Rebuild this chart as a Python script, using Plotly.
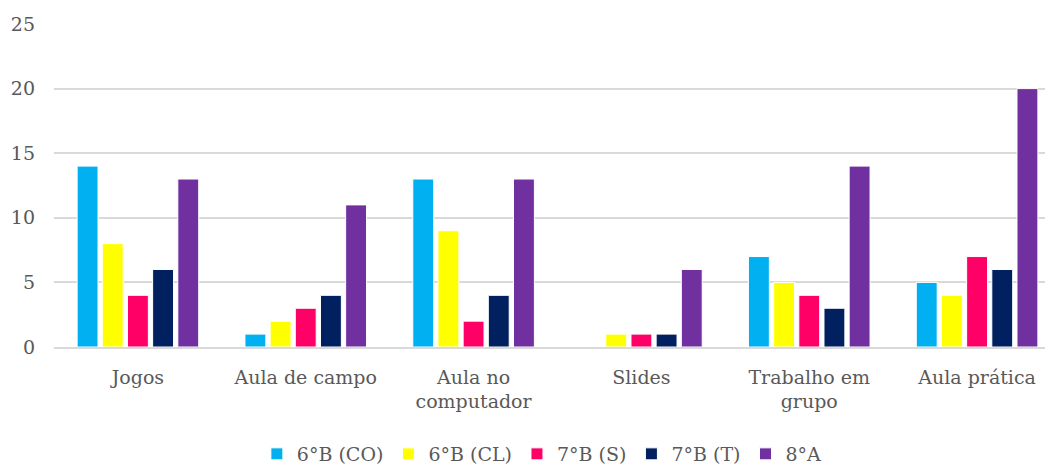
import plotly.graph_objects as go

categories = ["Jogos", "Aula de campo", "Aula no<br>computador", "Slides", "Trabalho em<br>grupo", "Aula prática"]
series_names = ["6°B (CO)", "6°B (CL)", "7°B (S)", "7°B (T)", "8°A"]
s_6b_co = [14, 1, 13, 0, 7, 5]
s_6b_cl = [8, 2, 9, 1, 5, 4]
s_7b_s = [4, 3, 2, 1, 4, 7]
s_7b_t = [6, 4, 4, 1, 3, 6]
s_8a = [13, 11, 13, 6, 14, 20]
y_ticks = [0, 5, 10, 15, 20, 25]

colors = ["#00B0F0", "#FFFF00", "#FF0066", "#002060", "#7030A0"]
values = [s_6b_co, s_6b_cl, s_7b_s, s_7b_t, s_8a]

fig = go.Figure()
for name, vals, col in zip(series_names, values, colors):
    fig.add_trace(go.Bar(x=categories, y=vals, name=name,
                         marker=dict(color=col, line=dict(color="white", width=1))))

font = "DejaVu Serif"
fig.update_layout(
    width=1053, height=465,
    margin=dict(l=46, r=0, t=16, b=126),
    plot_bgcolor="white", paper_bgcolor="white",
    barmode="group", bargap=0.25, bargroupgap=0.17,
    font=dict(family=font, size=19, color="#595959"),
    legend=dict(orientation="h", x=0.507, xanchor="center", xref="container",
                y=0.0, yanchor="bottom", yref="container",
                font=dict(family=font, size=19, color="#595959"),
                itemwidth=30, tracegroupgap=0),
    showlegend=True,
)
fig.update_yaxes(range=[0, 25], tickvals=y_ticks, showgrid=True, gridcolor="#D9D9D9",
                 gridwidth=1.5, zeroline=False, showline=False, ticks="", ticklen=0,
                 automargin=False, ticklabelstandoff=18,
                 tickfont=dict(family=font, size=19, color="#595959"))
fig.update_xaxes(showline=True, linecolor="#D9D9D9", linewidth=1.5, ticks="",
                 automargin=False, ticklabelstandoff=12,
                 tickfont=dict(family=font, size=19, color="#595959"))

fig.write_html("out.html")
